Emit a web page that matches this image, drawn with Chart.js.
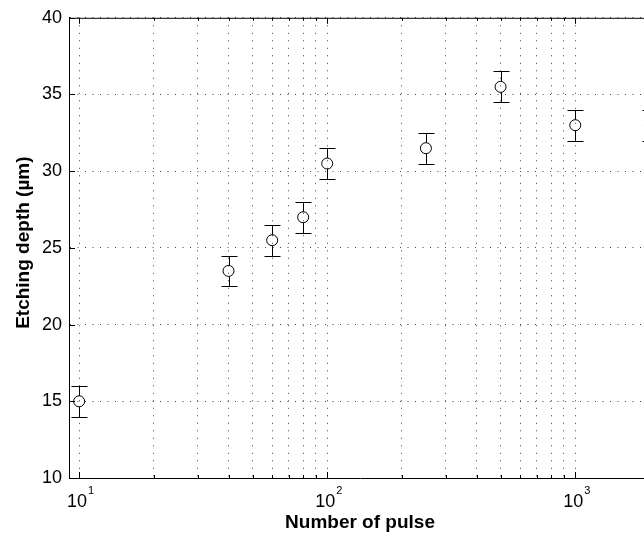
<!DOCTYPE html>
<html>
<head>
<meta charset="utf-8">
<script src="https://cdn.jsdelivr.net/npm/chart.js@4.4.1/dist/chart.umd.min.js"></script>
<style>
  html, body { margin: 0; padding: 0; overflow: hidden; background: #fff; }
  #wrap { position: relative; width: 651px; height: 539px; }
</style>
</head>
<body>
<div id="wrap"><canvas id="canvas"></canvas></div>
<script>
var pulses = [10, 40, 60, 80, 100, 250, 500, 1000, 2000];
var depth = [15, 23.5, 25.5, 27, 30.5, 31.5, 35.5, 33, 33];
var errors = [1, 1, 1, 1, 1, 1, 1, 1, 1];
var yTicks = [10, 15, 20, 25, 30, 35, 40];
var xMajor = [10, 100, 1000];
var xMinor = [20, 30, 40, 50, 60, 70, 80, 90, 200, 300, 400, 500, 600, 700, 800, 900, 2000];
var fontFamily = "'Liberation Sans', Arial, sans-serif";

var points = pulses.map(function (p, i) {
  return { x: p, y: depth[i] };
});

var errorBars = {
  id: "errorBars",
  afterDatasetsDraw: function (chart) {
    var ctx = chart.ctx;
    var xs = chart.scales.x, ys = chart.scales.y;
    var r = 5.5;
    ctx.save();
    ctx.strokeStyle = "#000";
    ctx.lineWidth = 1;
    for (var i = 0; i < pulses.length; i++) {
      var x = Math.round(xs.getPixelForValue(pulses[i])) + 0.5;
      var yc = ys.getPixelForValue(depth[i]);
      var yt = Math.round(ys.getPixelForValue(depth[i] + errors[i])) + 0.5;
      var yb = Math.round(ys.getPixelForValue(depth[i] - errors[i])) + 0.5;
      ctx.beginPath();
      ctx.moveTo(x, yt); ctx.lineTo(x, yc - r);
      ctx.moveTo(x, yc + r); ctx.lineTo(x, yb);
      ctx.moveTo(x - 8, yt); ctx.lineTo(x + 8, yt);
      ctx.moveTo(x - 8, yb); ctx.lineTo(x + 8, yb);
      ctx.stroke();
    }
    ctx.restore();
  }
};

// frame on top, inward ticks, and 10^n labels
var frame = {
  id: "frame",
  afterDraw: function (chart) {
    var ctx = chart.ctx;
    var a = chart.chartArea;
    var xs = chart.scales.x, ys = chart.scales.y;
    ctx.save();
    ctx.strokeStyle = "#000";
    ctx.lineWidth = 1;
    ctx.beginPath();
    ctx.moveTo(a.left, a.top + 0.5); ctx.lineTo(a.right, a.top + 0.5);
    xs.ticks.forEach(function (t) {
      var x = Math.round(xs.getPixelForValue(t.value)) + 0.5;
      var len = t.major ? 6 : 3;
      ctx.moveTo(x, a.bottom); ctx.lineTo(x, a.bottom - len);
      ctx.moveTo(x, a.top); ctx.lineTo(x, a.top + len);
    });
    ys.ticks.forEach(function (t) {
      var y = Math.round(ys.getPixelForValue(t.value)) + 0.5;
      ctx.moveTo(a.left, y); ctx.lineTo(a.left + 6, y);
      ctx.moveTo(a.right, y); ctx.lineTo(a.right - 6, y);
    });
    ctx.stroke();

    ctx.fillStyle = "#000";
    ctx.textBaseline = "alphabetic";
    ctx.textAlign = "left";
    xMajor.forEach(function (v) {
      var base = "10", exp = String(Math.round(Math.log10(v)));
      ctx.font = "18px " + fontFamily;
      var wb = ctx.measureText(base).width;
      ctx.font = "11px " + fontFamily;
      var we = ctx.measureText(exp).width;
      var x0 = xs.getPixelForValue(v) - (wb + we) / 2 + 1;
      ctx.font = "18px " + fontFamily;
      ctx.fillText(base, x0, a.bottom + 29);
      ctx.font = "11px " + fontFamily;
      ctx.fillText(exp, x0 + wb + 1, a.bottom + 16);
    });
    ctx.restore();
  }
};

window.onload = function () {
  var ctx = document.getElementById("canvas").getContext("2d");
  new Chart(ctx, {
    type: "scatter",
    data: {
      datasets: [{
        data: points,
        pointStyle: "circle",
        pointRadius: 5.5,
        pointBorderWidth: 1,
        pointBorderColor: "#000",
        pointBackgroundColor: "rgba(0,0,0,0)",
        showLine: false,
        clip: false
      }]
    },
    options: {
      responsive: true,
      maintainAspectRatio: false,
      animation: false,
      layout: { autoPadding: false, padding: { top: 16, left: 0, right: 0, bottom: 0 } },
      plugins: { legend: { display: false }, tooltip: { enabled: false } },
      scales: {
        x: {
          type: "logarithmic",
          min: 9.1,
          max: 2020,
          afterBuildTicks: function (scale) {
            var all = xMajor.concat(xMinor).sort(function (a, b) { return a - b; });
            scale.ticks = all.map(function (v) {
              return { value: v, major: xMajor.indexOf(v) >= 0 };
            });
          },
          afterFit: function (scale) {
            scale.height = 61;
            scale.paddingLeft = 0;
            scale.paddingRight = 0;
          },
          ticks: {
            autoSkip: false,
            maxRotation: 0,
            callback: function () { return ""; }
          },
          grid: { color: "#444", lineWidth: 1, drawTicks: false },
          border: { display: true, color: "#000", width: 1, dash: [1, 6.5] },
          title: {
            display: true,
            text: "Number of pulse",
            color: "#000",
            padding: { top: 0, bottom: 5 },
            font: { family: fontFamily, size: 19, weight: "bold" }
          }
        },
        y: {
          min: 10,
          max: 40,
          afterBuildTicks: function (scale) {
            scale.ticks = yTicks.map(function (v) { return { value: v }; });
          },
          afterFit: function (scale) { scale.width = 69; },
          ticks: {
            padding: 7,
            color: "#000",
            font: { family: fontFamily, size: 18 }
          },
          grid: { color: "#444", lineWidth: 1, drawTicks: false },
          border: { display: true, color: "#000", width: 1, dash: [1, 6.5] },
          title: {
            display: true,
            text: "  Etching depth (\u00b5m)",
            color: "#000",
            padding: { top: 12, bottom: 0 },
            font: { family: fontFamily, size: 19, weight: "bold" }
          }
        }
      }
    },
    plugins: [errorBars, frame]
  });
};
</script>
</body>
</html>
